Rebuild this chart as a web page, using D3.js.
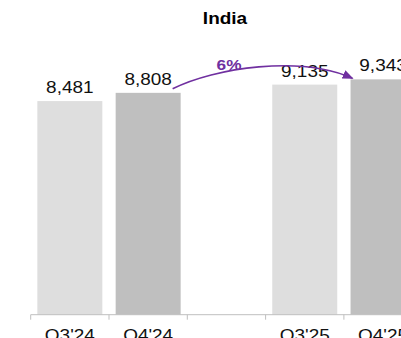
<!DOCTYPE html>
<html><head><meta charset="utf-8">
<script src="https://cdn.jsdelivr.net/npm/d3@7"></script>
<style>body{margin:0;background:#fff}svg{display:block}text{font-family:"Liberation Sans",Arial,sans-serif}</style>
</head><body>
<script>
const title = "India";
const categories = ["Q3'24","Q4'24"," ","Q3'25","Q4'25"];
const values = [8481, 8808, null, 9135, 9343];
const barColors = ["#dedede","#bfbfbf",null,"#dedede","#bfbfbf"];
const growthLabel = "6%";

const W = 401, H = 338;
const svg = d3.select("body").append("svg").attr("width", W).attr("height", H);

const x = d3.scaleBand().domain(categories).range([30.7, 422.2]).paddingInner(0.17).paddingOuter(0.085);
const y = d3.scaleLinear().domain([0, 10000]).range([314.7, 314.7 - 10000/39.7]);
const stretch = 1.15;

function stext(g, x0, y0, txt, size, weight, fill) {
  return g.append("text").attr("transform", `translate(${x0},${y0}) scale(${stretch},1)`)
    .attr("text-anchor","middle").attr("font-size", size).attr("font-weight", weight)
    .attr("fill", fill).text(txt);
}

stext(svg, 225, 24, title, 16.5, "bold", "#000");

const data = categories.map((c,i)=>({c, v: values[i], col: barColors[i]})).filter(d=>d.v!=null);

svg.selectAll("rect.bar").data(data).join("rect").attr("class","bar")
  .attr("x", d=>x(d.c)).attr("width", x.bandwidth())
  .attr("y", d=>y(d.v)).attr("height", d=>y(0)-y(d.v)).attr("fill", d=>d.col);

data.forEach(d => stext(svg, x(d.c)+x.bandwidth()/2, y(d.v)-8, d3.format(",")(d.v), 16.5, "normal", "#111"));

// axis
const step = x.step(), gap = step*0.17/2;
svg.append("line").attr("x1", x(categories[0])-gap).attr("x2", W).attr("y1", y(0)).attr("y2", y(0))
  .attr("stroke","#bfbfbf").attr("stroke-width",1);
categories.forEach(c => {
  const tx = x(c)-gap;
  svg.append("line").attr("x1",tx).attr("x2",tx).attr("y1",y(0)).attr("y2",y(0)+5).attr("stroke","#bfbfbf");
  stext(svg, x(c)+x.bandwidth()/2, 341, c, 16.5, "normal", "#111");
});

// growth arrow
const a = data.find(d=>d.c==="Q4'24"), b = data.find(d=>d.c==="Q4'25");
const sx = x(a.c)+x.bandwidth()-8, sy = y(a.v)-4;
const ex = x(b.c)+2, ey = y(b.v)-1;
const purple = "#7030a0";
svg.append("defs").append("marker").attr("id","ah").attr("viewBox","0 0 10 10").attr("refX",9).attr("refY",5)
  .attr("markerWidth",11).attr("markerHeight",9).attr("orient","auto").attr("markerUnits","userSpaceOnUse")
  .attr("preserveAspectRatio","none")
  .append("path").attr("d","M0,0L10,5L0,10z").attr("fill",purple);
svg.append("path").attr("d", `M${sx},${sy} C${sx+42},${sy-21} ${ex-52},${sy-34} ${ex},${ey}`)
  .attr("fill","none").attr("stroke",purple).attr("stroke-width",1.6).attr("marker-end","url(#ah)");
stext(svg, 229, 70, growthLabel, 15, "bold", purple);
</script>
</body></html>
